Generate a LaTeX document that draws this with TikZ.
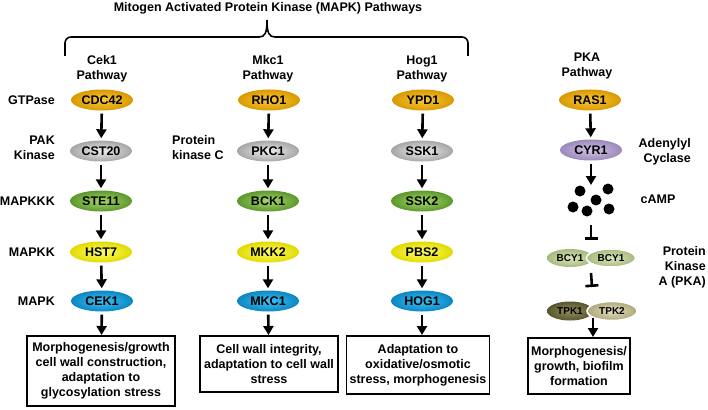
\documentclass[tikz,border=0pt]{standalone}
\usepackage{fontspec}
\setmainfont{Liberation Sans}
\usepackage{pgf,tikz}
\usetikzlibrary{arrows.meta}
\usetikzlibrary{shapes.geometric}

\definecolor{gtpin}{HTML}{FAC83A}
\definecolor{gtpout}{HTML}{D99A00}
\definecolor{pakin}{HTML}{EEEEEE}
\definecolor{pakout}{HTML}{A6A6A6}
\definecolor{mkkkin}{HTML}{A9D86C}
\definecolor{mkkkout}{HTML}{5C982C}
\definecolor{mkkin}{HTML}{FFFF6A}
\definecolor{mkkout}{HTML}{E2DA00}
\definecolor{mkin}{HTML}{3CC4F6}
\definecolor{mkout}{HTML}{0C86C2}
\definecolor{cyrin}{HTML}{D2C4E4}
\definecolor{cyrout}{HTML}{9C88BA}
\definecolor{bcyin}{HTML}{DDE7BE}
\definecolor{bcyout}{HTML}{A6B97E}
\definecolor{tpkain}{HTML}{918F60}
\definecolor{tpkaout}{HTML}{58562E}
\definecolor{tpkbin}{HTML}{E4E0C0}
\definecolor{tpkbout}{HTML}{ADA77A}

\begin{document}
\begin{tikzpicture}[x=1pt,y=-1pt,
    every node/.style={font=\fontsize{12.5}{15}\selectfont\bfseries,inner sep=1pt},
    gene/.style={ellipse,minimum width=62pt,minimum height=21pt,inner sep=0pt},
    gtp/.style={gene,inner color=gtpin,outer color=gtpout},
    pak/.style={gene,inner color=pakin,outer color=pakout},
    mkkk/.style={gene,inner color=mkkkin,outer color=mkkkout},
    mkk/.style={gene,inner color=mkkin,outer color=mkkout},
    mk/.style={gene,inner color=mkin,outer color=mkout},
    sub/.style={ellipse,minimum height=18pt,inner sep=0pt,font=\fontsize{10}{12}\selectfont\bfseries},
    dot/.style={circle,fill=black,minimum size=11pt,inner sep=0pt},
    act/.style={line width=2.6pt,-{Triangle[width=10pt,length=9pt]},shorten <=3pt,shorten >=2pt},
    inh/.style={line width=2.6pt,-{Bar[width=13pt]}},
    outbox/.style={draw,line width=1.6pt,align=center,inner sep=3pt,anchor=north}]
    \useasboundingbox (0,0) rectangle (708,409);

    % brace over the MAPK pathways
    \node (title) at (268,8) {Mitogen Activated Protein Kinase (MAPK) Pathways};
    \draw[line width=1.6pt,rounded corners=6pt] (65,56) -- (65,37) -- (259,37);
    \draw[line width=1.6pt] (259,37) .. controls (265,37) and (267,33) .. (267,20) .. controls (267,33) and (269,37) .. (275,37);
    \draw[line width=1.6pt,rounded corners=6pt] (275,37) -- (468,37) -- (468,56);

    \node[align=center] (cekp) at (102,69) {Cek1\\Pathway};
    \node[align=center] (mkcp) at (268,69) {Mkc1\\Pathway};
    \node[align=center] (hogp) at (422,69) {Hog1\\Pathway};
    \node[align=center] (pkap) at (587,66) {PKA\\Pathway};

    % kinase levels
    \node[anchor=east] (lgtp) at (56,100) {GTPase};
    \node[anchor=east,align=right] (lpak) at (56,148) {PAK\\Kinase};
    \node[anchor=east] (lmkkk) at (56,201) {MAPKKK};
    \node[anchor=east] (lmkk) at (56,252) {MAPKK};
    \node[anchor=east] (lmk) at (56,301) {MAPK};
    \node[anchor=west,align=left] (lpkc) at (171,148) {Protein\\kinase C};

    % Cek1 pathway
    \node[gtp] (cdc42) at (102,100) {CDC42};
    \node[pak] (cst20) at (101,151) {CST20};
    \node[mkkk] (ste11) at (101,201) {STE11};
    \node[mkk] (hst7) at (101,252) {HST7};
    \node[mk] (cek1) at (102,301) {CEK1};
    \node[outbox,minimum width=148pt,minimum height=70pt] (cekout) at (101,335) {Morphogenesis/growth\\cell wall construction,\\adaptation to\\glycosylation stress};

    % Mkc1 pathway
    \node[gtp] (rho1) at (269,100) {RHO1};
    \node[pak] (pkc1) at (268,151) {PKC1};
    \node[mkkk] (bck1) at (268,201) {BCK1};
    \node[mkk] (mkk2) at (268,252) {MKK2};
    \node[mk] (mkc1) at (268,301) {MKC1};
    \node[outbox,minimum width=138pt,minimum height=56pt] (mkcout) at (269,335) {Cell wall integrity,\\adaptation to cell wall\\stress};

    % Hog1 pathway
    \node[gtp] (ypd1) at (423,100) {YPD1};
    \node[pak] (ssk1) at (422,151) {SSK1};
    \node[mkkk] (ssk2) at (422,201) {SSK2};
    \node[mkk] (pbs2) at (422,252) {PBS2};
    \node[mk] (hog1) at (422,301) {HOG1};
    \node[outbox,minimum width=142pt,minimum height=58pt] (hogout) at (418,335) {Adaptation to\\oxidative/osmotic\\stress, morphogenesis};

    \foreach \a/\b in {cdc42/cst20,cst20/ste11,ste11/hst7,hst7/cek1,
                       rho1/pkc1,pkc1/bck1,bck1/mkk2,mkk2/mkc1,
                       ypd1/ssk1,ssk1/ssk2,ssk2/pbs2,pbs2/hog1}
      \draw[act] (\a) -- (\b);
    \draw[act,shorten >=0pt] (cek1) -- (cekout);
    \draw[act,shorten >=0pt] (mkc1) -- (mkcout);
    \draw[act,shorten >=0pt] (hog1) -- (hogout.north -| hog1);

    % PKA pathway
    \node[gtp] (ras1) at (590,100) {RAS1};
    \node[gene,inner color=cyrin,outer color=cyrout] (cyr1) at (591,150) {CYR1};
    \node[anchor=east,align=right] (lcyr) at (692,152) {Adenylyl\\Cyclase};
    \draw[act] (ras1) -- (cyr1);

    \node[dot] (d1) at (580,191) {};
    \node[dot] (d2) at (608,189) {};
    \node[dot] (d3) at (596,200) {};
    \node[dot] (d4) at (573,207) {};
    \node[dot] (d5) at (587,211) {};
    \node[dot] (d6) at (609,209) {};
    \node (lcamp) at (658,199) {cAMP};
    \coordinate (camptop) at (591,185);
    \coordinate (campbot) at (591,225);
    \draw[act,shorten >=0pt] (cyr1) -- (camptop);

    \node[sub,minimum width=46pt,inner color=bcyin,outer color=bcyout] (bcy1) at (570,258) {BCY1};
    \node[sub,minimum width=49pt,inner color=bcyin,outer color=bcyout,draw=white,line width=1.5pt] (bcy2) at (611,258) {BCY1};
    \node[anchor=east,align=right] (lpka) at (707,267) {Protein\\Kinase\\A (PKA)};
    \coordinate (bcytop) at (591,240);
    \coordinate (bcybot) at (591,273);
    \draw[inh] (campbot) -- (bcytop);

    \node[sub,minimum width=46pt,minimum height=19pt,inner color=tpkain,outer color=tpkaout] (tpk1) at (570,311) {TPK1};
    \node[sub,minimum width=50pt,minimum height=19pt,inner color=tpkbin,outer color=tpkbout,draw=white,line width=1.5pt] (tpk2) at (612,311) {TPK2};
    \coordinate (tpktop) at (592,287);
    \coordinate (tpkbot) at (593,318);
    \draw[inh] (bcybot) -- (tpktop);

    \node[outbox,minimum width=97pt,minimum height=56pt] (pkaout) at (579,337) {Morphogenesis/\\growth, biofilm\\formation};
    \draw[act,shorten <=0pt,shorten >=0pt] (tpkbot) -- (pkaout.north -| tpkbot);
\end{tikzpicture}
\end{document}
